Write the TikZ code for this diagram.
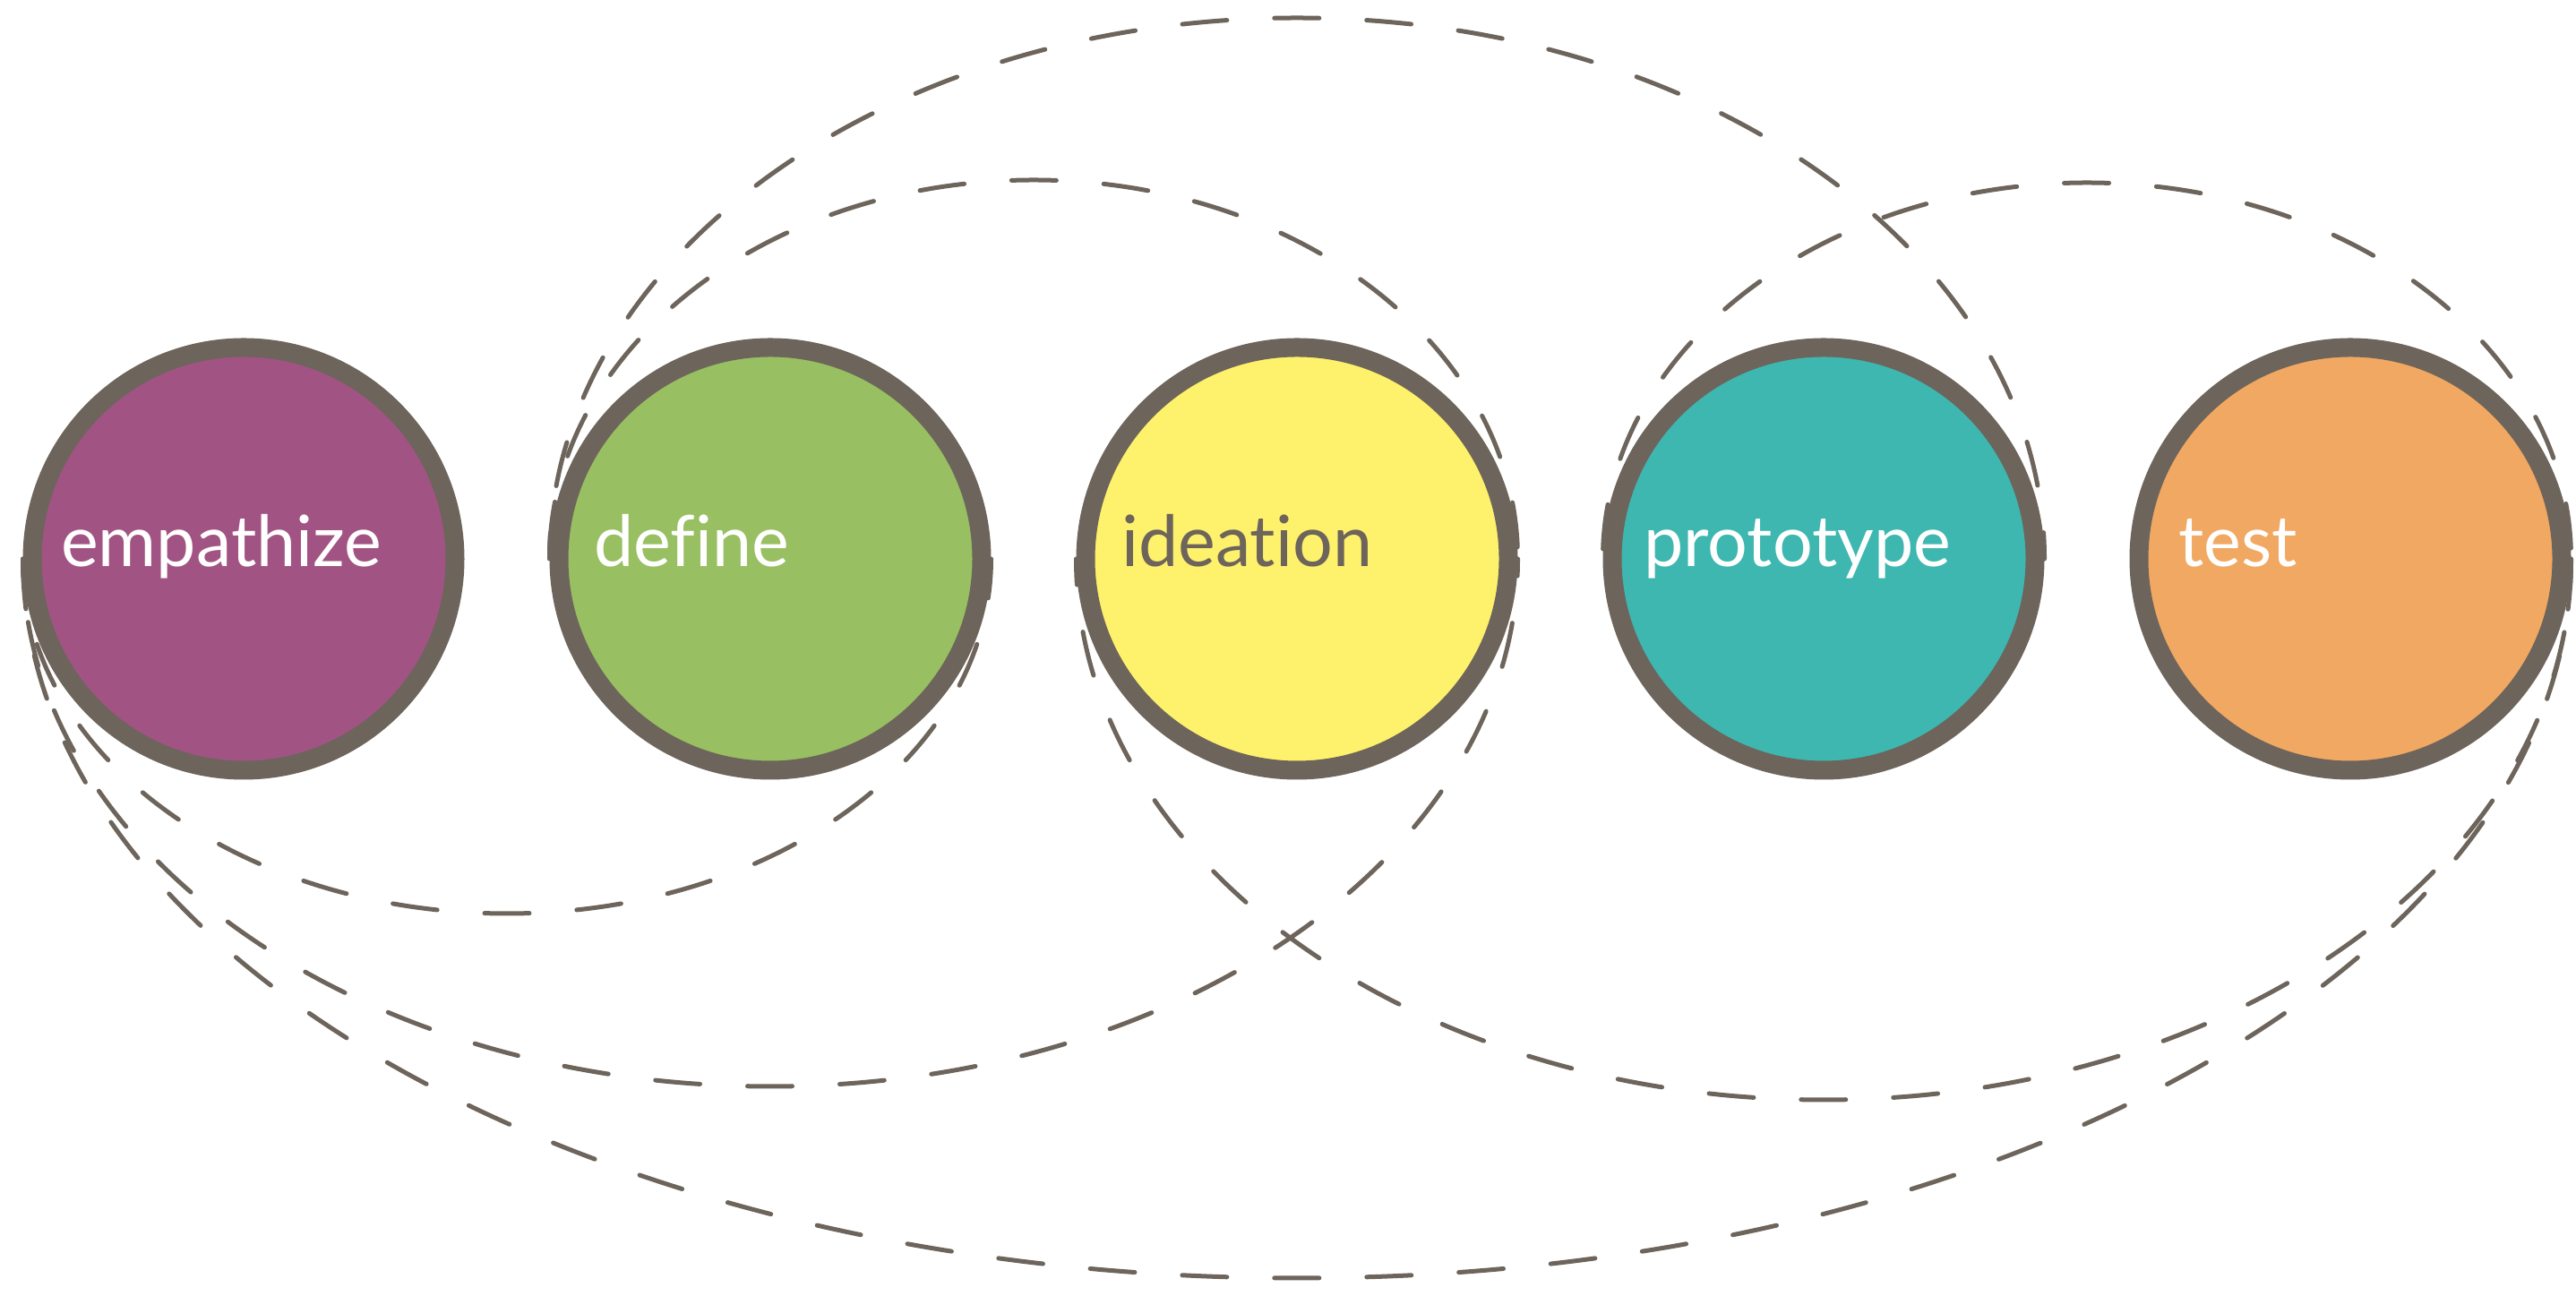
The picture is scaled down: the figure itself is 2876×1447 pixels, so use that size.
\documentclass[tikz,border=0pt]{standalone}
\usepackage{fontspec}
\setmainfont{Lato}[Ligatures=NoCommon]
\usetikzlibrary{positioning,backgrounds,calc}
\definecolor{ring}{RGB}{109,100,91}
\definecolor{empcol}{RGB}{161,84,131}
\definecolor{defcol}{RGB}{152,191,98}
\definecolor{idecol}{RGB}{254,241,108}
\definecolor{procol}{RGB}{62,183,176}
\definecolor{tstcol}{RGB}{241,168,98}
\tikzset{
stage/.style={circle, draw=ring, line width=21pt, minimum size=472pt, inner sep=0pt}, % the five big circles
stagetext/.style={anchor=base west, inner sep=0pt, text=white, font=\fontsize{79}{92}\selectfont},
loopline/.style={draw=ring, line width=5pt, line cap=round, dash pattern=on 50pt off 53pt}, % dashed loops between stages
}

\begin{document}
\begin{tikzpicture}[x=1pt, y=1pt, node distance=588pt, on grid]
  \useasboundingbox (0,0) rectangle (2876,1447);
  \node[stage, fill=empcol] (emp) at (272,823) {};
  \node[stage, fill=defcol, right=of emp] (def) {};
  \node[stage, fill=idecol, right=of def] (ide) {};
  \node[stage, fill=procol, right=of ide] (pro) {};
  \node[stage, fill=tstcol, right=of pro] (tst) {};
  \node[stagetext] (empL) at ($(emp.center)+(-204,-9)$) {empathize};
  \node[stagetext] (defL) at ($(def.center)+(-197,-9)$) {define};
  \node[stagetext, text=ring] (ideL) at ($(ide.center)+(-196,-9)$) {ideation};
  \node[stagetext] (proL) at ($(pro.center)+(-201,-9)$) {prototype};
  \node[stagetext] (tstL) at ($(tst.center)+(-192,-9)$) {test};
  \begin{scope}[on background layer]
    % loops under the circles
    \draw[loopline, dash phase=6pt] (emp.west) arc[start angle=180, end angle=360, x radius=540.5pt, y radius=396pt];
    \draw[loopline, dash phase=32pt] (emp.west) arc[start angle=180, end angle=360, x radius=834.5pt, y radius=589pt];
    \draw[loopline, dash phase=21pt] (ide.west) arc[start angle=180, end angle=360, x radius=834.5pt, y radius=604pt];
    \draw[loopline, dash phase=97pt] (emp.west) arc[start angle=180, end angle=360, x radius=1422.5pt, y radius=803pt];
    % loops over the circles
    \draw[loopline, dash phase=89pt] (def.west) arc[start angle=180, end angle=0, x radius=540.5pt, y radius=423pt];
    \draw[loopline, dash phase=21pt] (def.west) arc[start angle=180, end angle=0, x radius=834.5pt, y radius=604pt];
    \draw[loopline, dash phase=92pt] (pro.west) arc[start angle=180, end angle=0, x radius=540.5pt, y radius=420pt];
  \end{scope}
\end{tikzpicture}
\end{document}
